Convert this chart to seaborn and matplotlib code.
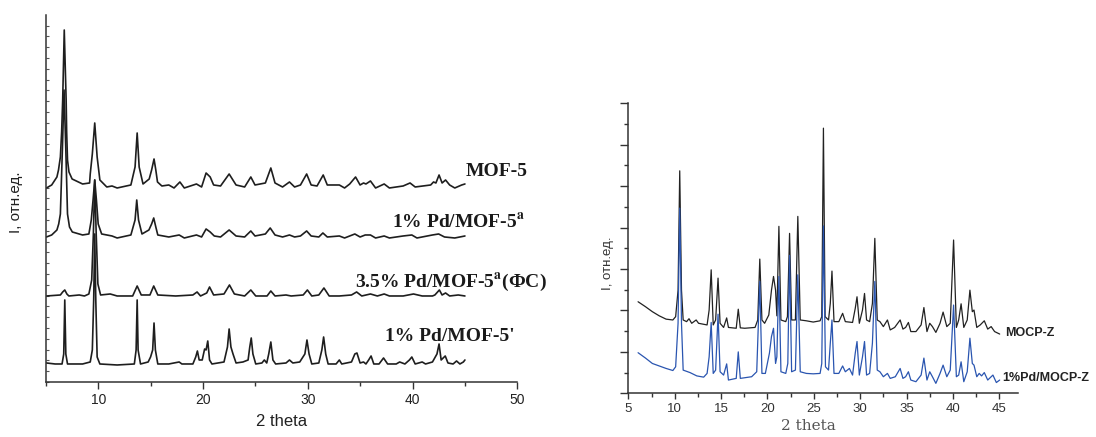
import matplotlib
matplotlib.use("Agg")
import matplotlib.pyplot as plt
from matplotlib.ticker import MultipleLocator
import seaborn as sns
import pandas as pd

# ---------------- MOF-5 series (stacked powder patterns, a.u. with offsets) ----------------
mof5_tth = [5.05, 5.55, 6.05, 6.2, 6.38, 6.5, 6.6, 6.75, 6.93, 6.98, 7.06, 7.2, 7.5, 8.5, 9.17, 9.23,
            9.43, 9.66, 9.89, 10.15, 10.81, 11.31, 11.8, 13.11, 13.51, 13.71, 13.9, 14.27, 14.86, 15.09,
            15.32, 15.49, 15.65, 16.07, 16.73, 17.23, 17.79, 18.21, 19.37, 19.86, 20.29, 20.68, 21.01,
            21.67, 22.49, 23.15, 23.97, 24.56, 24.96, 25.95, 26.47, 26.87, 27.59, 28.25, 28.74, 29.3,
            29.89, 30.32, 30.88, 31.47, 31.86, 33.01, 33.51, 34.0, 34.56, 34.99, 35.32, 35.55, 35.98,
            36.47, 37.29, 37.79, 39.1, 39.76, 40.25, 41.73, 42.0, 42.23, 42.53, 42.82, 43.15, 43.54,
            44.03, 44.69, 45.0]
mof5_int = [194, 197, 205, 212, 225, 250, 282, 352, 282, 250, 222, 210, 203, 198, 199, 208,
            228, 259, 225, 202, 195, 196, 194, 197, 215, 249, 215, 198, 203, 212,
            223, 212, 200, 196, 197, 194, 200, 194, 198, 195, 209, 205, 197,
            196, 208, 197, 195, 205, 197, 199, 214, 199, 195, 200, 195, 197,
            208, 197, 196, 207, 197, 197, 194, 198, 205, 197, 199, 198, 201,
            194, 198, 194, 196, 199, 195, 197, 200, 199, 207, 199, 202, 197,
            194, 197, 198]

pd1a_tth = [5.05, 5.55, 6.05, 6.22, 6.38, 6.57, 6.73, 6.9, 7.06, 7.25, 7.52, 8.5, 9.1, 9.33, 9.5,
            9.66, 9.82, 9.99, 10.32, 11.31, 11.8, 13.11, 13.51, 13.67, 13.84, 14.17, 14.83, 15.09,
            15.29, 15.49, 15.68, 16.73, 17.72, 18.21, 19.37, 19.86, 20.29, 20.68, 21.07, 21.67, 22.49,
            23.15, 23.97, 24.56, 24.96, 25.95, 26.41, 26.87, 27.59, 28.25, 28.74, 29.3, 29.89, 30.32,
            31.05, 31.44, 31.86, 33.01, 33.51, 34.49, 34.99, 35.48, 35.98, 36.47, 37.29, 37.79, 39.1,
            39.93, 40.42, 41.9, 42.49, 43.05, 44.03, 45.0]
pd1a_int = [145, 147, 152, 158, 168, 232, 292, 232, 168, 155, 150, 147, 148, 162, 182,
            202, 182, 158, 148, 146, 144, 147, 162, 182, 162, 148, 152, 158,
            164, 155, 147, 145, 147, 144, 147, 145, 153, 150, 146, 145, 152,
            146, 145, 151, 146, 148, 154, 147, 145, 147, 145, 146, 151, 146,
            145, 149, 145, 146, 144, 148, 145, 147, 147, 144, 146, 144, 146,
            147, 144, 147, 148, 145, 144, 146]

pd35_tth = [5.05, 6.38, 6.6, 6.8, 7.0, 7.19, 8.18, 8.68, 9.1, 9.37, 9.53, 9.66, 9.8, 9.96, 10.22,
            11.14, 11.8, 13.28, 13.71, 14.1, 14.93, 15.29, 15.68, 17.39, 19.03, 19.43, 19.76, 20.35,
            20.62, 21.01, 22.0, 22.52, 22.99, 23.97, 24.56, 25.03, 26.11, 26.47, 26.87, 27.92, 28.41,
            29.56, 29.96, 30.38, 31.05, 31.54, 32.04, 33.01, 34.17, 34.66, 35.15, 35.98, 36.64, 37.29,
            37.79, 39.1, 40.09, 40.92, 41.9, 42.13, 42.56, 42.82, 43.15, 43.54, 44.36, 45.0]
pd35_int = [86, 87, 90, 92, 88, 86, 87, 86, 88, 102, 148, 202, 148, 98, 87,
            88, 86, 86, 96, 87, 87, 96, 87, 86, 87, 90, 86, 89,
            95, 87, 88, 97, 88, 86, 92, 86, 86, 91, 86, 87, 86,
            87, 92, 86, 87, 94, 86, 86, 87, 90, 86, 88, 86, 88,
            86, 86, 88, 86, 86, 87, 92, 87, 89, 86, 87, 86]

pd1p_tth = [5.05, 5.88, 6.54, 6.7, 6.8, 6.9, 7.06, 8.5, 9.23, 9.43, 9.56, 9.66, 9.76, 9.89, 10.15,
            11.8, 13.44, 13.61, 13.71, 13.8, 14.03, 14.76, 14.99, 15.19, 15.32, 15.45, 15.68, 16.73,
            17.72, 17.98, 19.03, 19.3, 19.46, 19.63, 19.92, 20.15, 20.29, 20.45, 20.62, 20.85, 22.0,
            22.33, 22.49, 22.66, 22.86, 23.15, 23.81, 24.3, 24.46, 24.6, 24.76, 25.03, 25.62, 25.85,
            26.08, 26.27, 26.47, 26.67, 26.93, 27.92, 28.25, 28.57, 29.23, 29.72, 29.92, 30.12, 30.38,
            31.05, 31.34, 31.51, 31.71, 31.94, 32.7, 33.01, 33.24, 34.17, 34.49, 34.69, 34.99, 35.32,
            35.55, 35.81, 36.04, 36.3, 36.8, 37.23, 37.62, 38.44, 38.77, 39.27, 39.7, 39.93, 40.25,
            40.92, 41.24, 41.9, 42.33, 42.53, 42.73, 43.12, 43.38, 43.87, 44.2, 44.52, 44.85, 45.0]
pd1p_int = [19, 18, 18, 28, 82, 28, 18, 18, 20, 32, 82, 148, 82, 25, 18,
            17, 18, 32, 82, 32, 18, 20, 25, 32, 59, 32, 18, 18,
            20, 18, 18, 25, 31, 22, 22, 33, 32, 41, 22, 18, 20,
            35, 53, 35, 28, 19, 20, 22, 35, 44, 28, 18, 19, 22,
            19, 28, 40, 22, 18, 19, 22, 19, 20, 28, 42, 28, 18,
            19, 32, 45, 28, 18, 18, 22, 18, 20, 28, 29, 19, 20,
            18, 22, 26, 18, 18, 24, 18, 18, 20, 18, 22, 25, 18,
            20, 18, 20, 28, 38, 22, 26, 19, 18, 21, 18, 20, 22]

mof_labels = ["MOF-5", r"1% Pd/MOF-5$^{\mathbf{a}}$", r"3.5% Pd/MOF-5$^{\mathbf{a}}$(ФС)", "1% Pd/MOF-5'"]
mof_label_tth = [45.1, 38.05, 34.5, 37.4]
mof_label_int = [210, 160, 100, 45]

# ---------------- MOCP-Z series ----------------
mocp_tth = [6.05, 6.85, 7.59, 8.33, 9.07, 9.8, 10.1, 10.36, 10.54, 10.73, 10.91, 11.28, 11.54, 11.83,
            12.31, 12.57, 13.49, 13.71, 13.93, 14.15, 14.41, 14.67, 14.89, 15.27, 15.6, 15.79, 16.63,
            16.85, 17.07, 17.55, 18.66, 18.95, 19.17, 19.4, 19.69, 20.14, 20.43, 20.65, 20.87, 21.01,
            21.23, 21.45, 21.97, 22.15, 22.38, 22.6, 23.01, 23.27, 23.53, 24.19, 24.93, 25.67, 25.85,
            26.03, 26.21, 26.58, 26.77, 26.95, 27.17, 27.69, 28.1, 28.39, 29.17, 29.46, 29.65, 29.9,
            30.24, 30.46, 30.68, 31.01, 31.31, 31.57, 31.83, 32.12, 32.49, 32.93, 33.23, 33.71, 34.3,
            34.6, 34.89, 35.19, 35.45, 36.0, 36.56, 36.86, 37.19, 37.49, 37.78, 38.15, 38.6, 38.93,
            39.33, 39.7, 40.06, 40.36, 40.61, 40.87, 41.16, 41.53, 41.82, 42.08, 42.26, 42.56, 42.93,
            43.37, 43.74, 44.11, 44.48, 45.03]
mocp_int = [2.21, 2.09, 1.97, 1.87, 1.79, 1.77, 1.85, 2.49, 5.37, 2.49, 1.77, 1.73, 1.80, 1.69,
            1.77, 1.69, 1.65, 2.01, 2.98, 1.65, 1.77, 2.78, 1.69, 1.59, 1.82, 1.59, 1.57,
            2.03, 1.58, 1.57, 1.59, 1.77, 3.24, 1.77, 1.69, 1.89, 2.49, 2.82, 2.49, 1.87,
            4.03, 1.77, 1.73, 1.85, 3.86, 1.77, 1.77, 4.27, 1.77, 1.75, 1.72, 1.75, 1.85,
            6.40, 1.85, 1.77, 2.17, 2.95, 1.73, 1.73, 1.93, 1.73, 1.71, 2.05, 2.33, 1.69,
            2.01, 2.41, 1.77, 1.73, 2.17, 3.74, 1.77, 1.73, 1.61, 1.77, 1.53, 1.59, 1.77,
            1.55, 1.59, 1.71, 1.49, 1.49, 1.65, 2.07, 1.49, 1.69, 1.61, 1.47, 1.69, 1.96,
            1.61, 1.69, 3.70, 1.59, 1.77, 2.16, 1.59, 1.77, 2.49, 1.97, 2.01, 1.59, 1.65,
            1.75, 1.55, 1.61, 1.49, 1.43]

pdmocp_tth = [6.05, 6.85, 7.59, 8.33, 9.07, 9.8, 10.1, 10.36, 10.54, 10.73, 10.91, 11.65, 12.38, 13.12,
              13.49, 13.71, 13.93, 14.15, 14.41, 14.67, 14.89, 15.27, 15.6, 15.79, 16.63, 16.85, 17.07,
              18.29, 18.84, 19.17, 19.4, 19.77, 20.21, 20.43, 20.65, 20.87, 21.01, 21.23, 21.45, 21.97,
              22.19, 22.38, 22.6, 23.01, 23.27, 23.53, 24.19, 24.93, 25.67, 25.85, 26.03, 26.25, 26.58,
              26.77, 26.95, 27.17, 27.69, 28.1, 28.39, 28.83, 29.17, 29.46, 29.65, 29.9, 30.24, 30.46,
              30.68, 31.01, 31.31, 31.57, 31.83, 32.12, 32.49, 32.93, 33.23, 33.78, 34.3, 34.6, 34.89,
              35.19, 35.45, 36.0, 36.56, 36.86, 37.19, 37.49, 37.78, 38.15, 38.6, 38.93, 39.33, 39.7,
              40.06, 40.36, 40.61, 40.87, 41.16, 41.53, 41.82, 42.08, 42.26, 42.56, 42.82, 43.08, 43.37,
              43.74, 44.3, 44.67, 45.03]
pdmocp_int = [0.98, 0.85, 0.72, 0.66, 0.60, 0.55, 0.64, 1.69, 4.47, 1.69, 0.56, 0.50, 0.42, 0.39,
              0.48, 0.88, 1.71, 0.48, 0.56, 1.91, 0.52, 0.44, 0.71, 0.32, 0.36, 1.00, 0.36,
              0.40, 0.52, 2.70, 0.48, 0.48, 0.97, 1.37, 1.57, 0.72, 0.88, 2.82, 0.52, 0.48,
              0.72, 3.33, 0.52, 0.56, 2.86, 0.52, 0.48, 0.47, 0.48, 0.72, 4.04, 0.64, 0.56,
              1.21, 1.77, 0.48, 0.48, 0.66, 0.52, 0.60, 0.44, 0.97, 1.25, 0.44, 0.88, 1.25,
              0.44, 0.48, 1.21, 2.70, 0.56, 0.52, 0.40, 0.48, 0.36, 0.40, 0.60, 0.36, 0.40,
              0.52, 0.32, 0.28, 0.44, 0.85, 0.32, 0.52, 0.40, 0.24, 0.48, 0.68, 0.40, 0.56,
              2.13, 0.40, 0.44, 0.76, 0.28, 0.52, 1.33, 0.72, 0.68, 0.40, 0.48, 0.42, 0.50,
              0.32, 0.44, 0.26, 0.32]

mocp_labels = ["MOCP-Z", "1%Pd/MOCP-Z"]
mocp_label_tth = [45.64, 45.3]
mocp_label_int = [1.46, 0.37]

sns.set_theme(style="ticks")
plt.rcParams["font.family"] = ["Liberation Sans", "DejaVu Sans"]
plt.rcParams["mathtext.fontset"] = "stix"

fig = plt.figure(figsize=(10.96, 4.37), dpi=100)
ax1 = fig.add_axes([0.0419, 0.1259, 0.4301, 0.8398])
ax2 = fig.add_axes([0.5733, 0.1000, 0.3555, 0.6636])

# left panel: four stacked patterns
for tth, inten in [(mof5_tth, mof5_int), (pd1a_tth, pd1a_int), (pd35_tth, pd35_int), (pd1p_tth, pd1p_int)]:
    df = pd.DataFrame({"2 theta": tth, "I": inten})
    sns.lineplot(data=df, x="2 theta", y="I", ax=ax1, color="#1e1e1e", linewidth=1.2,
                 estimator=None, sort=False)

ax1.set_xlim(5, 50)
ax1.set_ylim(0, 367)
ax1.xaxis.set_major_locator(MultipleLocator(10))
ax1.xaxis.set_minor_locator(MultipleLocator(5))
ax1.yaxis.set_major_locator(MultipleLocator(10.8))
ax1.tick_params(axis="x", which="major", direction="out", length=5, width=1, colors="#333333",
                labelsize=10, labelcolor="#222222", pad=3)
ax1.tick_params(axis="x", which="minor", direction="out", length=3, width=1, colors="#333333")
ax1.tick_params(axis="y", which="major", direction="in", length=2.5, width=0.8, colors="#555555",
                labelleft=False)
for s in ["top", "right"]:
    ax1.spines[s].set_visible(False)
for s in ["left", "bottom"]:
    ax1.spines[s].set_color("#333333")
    ax1.spines[s].set_linewidth(1.1)
ax1.set_xlabel("2 theta", fontsize=12, color="#222222", labelpad=5)
ax1.set_ylabel("I, отн.ед.", fontsize=11, color="#222222")
ax1.yaxis.set_label_coords(-0.049, 0.49)

for lab, tx, ty in zip(mof_labels, mof_label_tth, mof_label_int):
    ax1.text(tx, ty, lab, fontsize=14, fontweight="bold", family=["Liberation Serif", "DejaVu Serif"],
             color="#1a1a1a", ha="left", va="center", clip_on=False)

# right panel: MOCP-Z and its Pd-loaded form
sns.lineplot(x=mocp_tth, y=mocp_int, ax=ax2, color="#222222", linewidth=0.9, estimator=None, sort=False)
sns.lineplot(x=pdmocp_tth, y=pdmocp_int, ax=ax2, color="#2a55b0", linewidth=0.9, estimator=None, sort=False)

ax2.set_xlim(5, 47)
ax2.set_ylim(0, 7)
ax2.xaxis.set_major_locator(MultipleLocator(5))
ax2.xaxis.set_minor_locator(MultipleLocator(2.5))
ax2.yaxis.set_major_locator(MultipleLocator(1))
ax2.yaxis.set_minor_locator(MultipleLocator(0.5))
ax2.tick_params(axis="x", which="major", direction="out", length=4, width=1, colors="#333333",
                labelsize=9.5, labelcolor="#333333", pad=3)
ax2.tick_params(axis="x", which="minor", direction="out", length=3, width=1, colors="#333333")
ax2.tick_params(axis="y", which="major", direction="out", length=6, width=1, colors="#333333",
                labelleft=False)
ax2.tick_params(axis="y", which="minor", direction="out", length=3, width=1, colors="#333333")
for s in ["top", "right"]:
    ax2.spines[s].set_visible(False)
for s in ["left", "bottom"]:
    ax2.spines[s].set_color("#333333")
    ax2.spines[s].set_linewidth(1.1)
ax2.set_xlabel("2 theta", fontsize=11, color="#555555", family=["DejaVu Serif"])
ax2.xaxis.set_label_coords(0.461, -0.088)
ax2.set_ylabel("I, отн.ед.", fontsize=9.5, color="#333333")
ax2.yaxis.set_label_coords(-0.038, 0.45)

for lab, tx, ty in zip(mocp_labels, mocp_label_tth, mocp_label_int):
    ax2.text(tx, ty, lab, fontsize=9, fontweight="bold", color="#222222", ha="left", va="center",
             clip_on=False)

fig.savefig("out.png", dpi=100)
